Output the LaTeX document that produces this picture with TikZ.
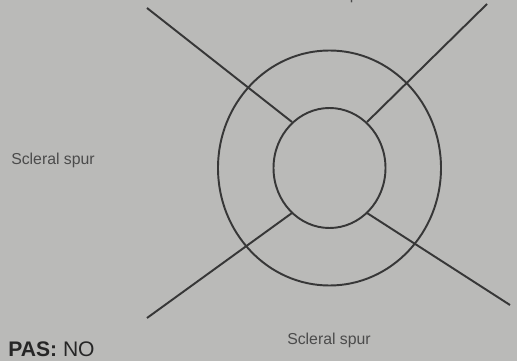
\documentclass[tikz,border=0pt]{standalone}
\usepackage{fontspec}
\setmainfont{Liberation Sans}
\usepackage{xcolor}
\usetikzlibrary{positioning, calc}

\definecolor{paper}{RGB}{186,186,184}
\definecolor{ink}{RGB}{55,55,55}

\begin{document}
\begin{tikzpicture}[x=0.02cm, y=-0.02cm,
    ring/.style={ink, line width=1.1pt},
    spoke/.style={ink, line width=1.1pt},
    label/.style={text=ink!90, font=\fontsize{9}{10}\selectfont, inner sep=0pt}]
    % Background
    \fill[paper] (0,0) rectangle (517,361);
    \useasboundingbox (0,0) rectangle (517,361);
    \clip (0,0) rectangle (517,361);

    % Rings
    \coordinate (c) at (329.5,168);
    \draw[ring] (c) ellipse [x radius=111.5, y radius=117.5];
    \draw[ring] (c) ellipse [x radius=56, y radius=60];

    % Spokes
    \coordinate (tl) at (147,8);
    \coordinate (tr) at (487,4);
    \coordinate (bl) at (147,318);
    \coordinate (br) at (510,305);
    \coordinate (tlin) at (292,122);
    \coordinate (trin) at (367,122);
    \coordinate (blin) at (292,213);
    \coordinate (brin) at (367,213);
    \draw[spoke] (tl) -- (tlin);
    \draw[spoke] (tr) -- (trin);
    \draw[spoke] (bl) -- (blin);
    \draw[spoke] (br) -- (brin);

    % Labels
    \node[label] (top) at (331,-5) {Scleral spur};
    \node[label] (left) at (53,160) {Scleral spur};
    \node[label] (bottom) at (329,340) {Scleral spur};
    \node[text=black!85, font=\fontsize{12}{14}\selectfont, anchor=base west, inner sep=0pt]
        (pas) at (8,356) {\textbf{PAS:} NO};
\end{tikzpicture}
\end{document}
